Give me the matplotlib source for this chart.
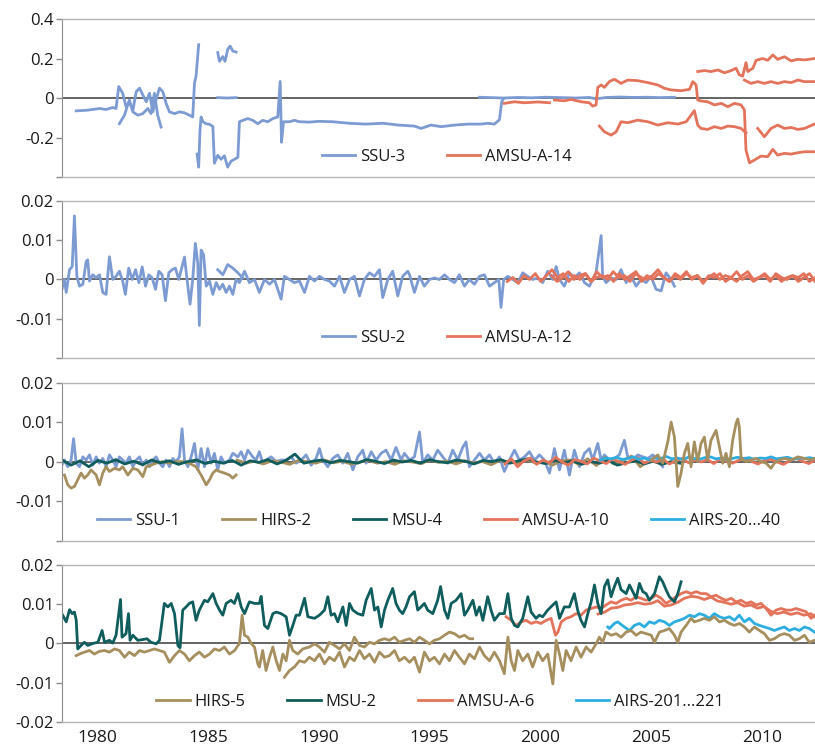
import numpy as np
import matplotlib.pyplot as plt

plt.rcParams['font.family'] = ['Open Sans', 'DejaVu Sans']

# ---------------- colours / axis setup ----------------
c_ssu = '#7d9bd3'
c_amsu = '#e4735b'
c_hirs = '#a68f5f'
c_msu = '#0f5d5c'
c_airs = '#2eaee0'

year_ticks = [1980, 1985, 1990, 1995, 2000, 2005, 2010]
xlim = (1978.4, 2012.4)

p1_ticks = [0.4, 0.2, 0, -0.2, -0.4]
p1_labels = ['0.4', '0.2', '0', '-0.2', '']
p23_ticks = [0.02, 0.01, 0, -0.01, -0.02]
p23_labels = ['0.02', '0.01', '0', '-0.01', '']
p4_labels = ['0.02', '0.01', '0', '-0.01', '-0.02']

# ---------------- panel 1: SSU-3 / AMSU-A-14 (weights) ----------------
ssu3_a = [(1979.04, -0.065), (1979.49, -0.062), (1979.79, -0.058), (1980.09, -0.053),
          (1980.39, -0.058), (1980.69, -0.048), (1980.84, -0.053), (1980.96, 0.058),
          (1981.14, 0.024), (1981.29, -0.044), (1981.44, -0.019), (1981.60, -0.062),
          (1981.75, 0.032), (1981.90, 0.050), (1982.05, 0.015), (1982.20, -0.019),
          (1982.35, 0.024), (1982.50, -0.070), (1982.65, -0.007), (1982.80, 0.050),
          (1982.95, 0.032), (1983.10, -0.027), (1983.25, -0.070), (1983.48, -0.079),
          (1983.70, -0.070), (1983.93, -0.075), (1984.15, -0.087), (1984.30, -0.096),
          (1984.38, 0.075), (1984.45, 0.110), (1984.57, 0.270)]
ssu3_b = [(1980.99, -0.130), (1981.22, -0.087), (1981.44, -0.010), (1981.60, -0.070),
          (1981.82, -0.087), (1982.05, -0.079), (1982.27, -0.053), (1982.42, -0.079),
          (1982.57, 0.024), (1982.72, -0.087), (1982.87, -0.147)]
ssu3_c = [(1984.50, -0.284), (1984.57, -0.350), (1984.63, -0.160), (1984.68, -0.096),
          (1984.76, -0.120), (1984.90, -0.130), (1985.06, -0.133), (1985.21, -0.144),
          (1985.28, -0.330), (1985.43, -0.290), (1985.58, -0.310), (1985.73, -0.292),
          (1985.88, -0.350), (1986.03, -0.320), (1986.19, -0.310), (1986.34, -0.300),
          (1986.41, -0.120), (1986.56, -0.113), (1986.79, -0.104), (1987.01, -0.113),
          (1987.24, -0.130), (1987.46, -0.113), (1987.69, -0.120), (1987.92, -0.104),
          (1988.14, -0.096), (1988.25, 0.084), (1988.31, -0.224), (1988.40, -0.120),
          (1988.67, -0.120), (1988.89, -0.113), (1989.12, -0.120), (1989.57, -0.122),
          (1990.00, -0.118), (1990.60, -0.120), (1991.40, -0.128), (1992.10, -0.132),
          (1992.90, -0.128), (1993.60, -0.137), (1994.31, -0.142), (1994.61, -0.154),
          (1995.06, -0.137), (1995.52, -0.145), (1996.12, -0.137), (1996.72, -0.132),
          (1997.32, -0.132), (1997.62, -0.128), (1997.92, -0.132), (1998.15, -0.110),
          (1998.25, -0.020), (1998.31, -0.008)]
ssu3_d = [(1985.43, 0.230), (1985.51, 0.186), (1985.66, 0.210), (1985.76, 0.186),
          (1985.88, 0.246), (1985.99, 0.263), (1986.11, 0.238), (1986.26, 0.233)]
ssu3_e = [(1985.43, 0.002), (1985.85, 0.000), (1986.26, 0.002)]
ssu3_f = [(1997.25, 0.004), (1997.80, 0.002), (1998.30, 0.000), (1999.00, 0.003),
          (1999.60, 0.001), (2000.20, 0.004), (2001.00, 0.002), (2001.60, 0.000),
          (2002.20, 0.003), (2002.50, -0.004), (2003.00, 0.003), (2003.60, 0.005),
          (2004.20, 0.003), (2004.80, 0.004), (2005.40, 0.002), (2006.05, 0.004)]

amsu14_a = [(1998.37, -0.027), (1998.83, -0.019), (1999.28, -0.024), (1999.88, -0.020),
            (2000.41, -0.024)]
amsu14_b = [(2000.63, -0.010), (2001.08, -0.014), (2001.38, -0.007), (2001.84, -0.019),
            (2002.21, -0.024), (2002.36, -0.041), (2002.51, -0.035), (2002.59, 0.054),
            (2002.74, 0.066), (2002.89, 0.054), (2003.11, 0.083), (2003.34, 0.095),
            (2003.64, 0.074), (2003.94, 0.091), (2004.39, 0.088), (2004.85, 0.078),
            (2005.30, 0.066), (2005.60, 0.049), (2005.90, 0.041), (2006.35, 0.037),
            (2006.73, 0.044), (2006.88, 0.083), (2007.03, 0.066), (2007.10, -0.010),
            (2007.25, -0.015), (2007.55, -0.019), (2007.86, -0.035), (2008.16, -0.027),
            (2008.46, -0.044), (2008.76, -0.027), (2009.06, -0.035), (2009.21, -0.061),
            (2009.28, -0.264), (2009.44, -0.328), (2009.66, -0.314), (2009.96, -0.294),
            (2010.26, -0.297), (2010.49, -0.260), (2010.71, -0.289), (2011.02, -0.280),
            (2011.32, -0.284), (2011.62, -0.277), (2011.92, -0.272), (2012.37, -0.272)]
amsu14_c = [(2002.66, -0.142), (2002.89, -0.171), (2003.19, -0.188), (2003.42, -0.171),
            (2003.64, -0.120), (2003.94, -0.125), (2004.39, -0.112), (2004.85, -0.120),
            (2005.30, -0.137), (2005.75, -0.125), (2006.20, -0.132), (2006.58, -0.120),
            (2006.81, -0.086), (2006.95, -0.064), (2007.10, -0.137), (2007.25, -0.154),
            (2007.55, -0.159), (2007.86, -0.145), (2008.16, -0.154), (2008.46, -0.142),
            (2008.76, -0.145), (2009.06, -0.154), (2009.28, -0.176)]
amsu14_d = [(2009.81, -0.154), (2010.11, -0.196), (2010.41, -0.154), (2010.71, -0.137),
            (2011.02, -0.154), (2011.32, -0.149), (2011.62, -0.159), (2011.92, -0.154),
            (2012.37, -0.132)]
amsu14_e = [(2007.10, 0.134), (2007.40, 0.139), (2007.70, 0.134), (2008.01, 0.142),
            (2008.31, 0.128), (2008.61, 0.139), (2008.83, 0.151), (2008.98, 0.117),
            (2009.13, 0.111), (2009.28, 0.179), (2009.36, 0.134), (2009.59, 0.151),
            (2009.74, 0.191), (2010.04, 0.200), (2010.26, 0.191), (2010.49, 0.218),
            (2010.71, 0.196), (2011.02, 0.209), (2011.32, 0.188), (2011.62, 0.196),
            (2011.92, 0.193), (2012.37, 0.200)]
amsu14_f = [(2009.21, 0.091), (2009.51, 0.074), (2009.81, 0.083), (2010.11, 0.074),
            (2010.41, 0.083), (2010.71, 0.074), (2011.02, 0.083), (2011.32, 0.078),
            (2011.62, 0.091), (2011.92, 0.083), (2012.37, 0.083)]

# ---------------- panel 2: SSU-2 / AMSU-A-12  (units of 1e-3) ----------------
ssu2_a = [(1978.36, -3.3), (1978.51, 0.0), (1978.59, -3.3), (1978.74, 2.5), (1978.86, 3.3),
          (1978.96, 16.2), (1979.07, 0.8), (1979.19, -1.7), (1979.34, -1.2), (1979.49, 4.6),
          (1979.56, 5.0), (1979.64, -0.4), (1979.79, 1.2), (1979.94, 0.4), (1980.09, 1.2),
          (1980.24, -3.3), (1980.39, -3.8), (1980.54, 5.8), (1980.69, 0.0), (1980.84, 0.8),
          (1980.99, 2.1), (1981.14, -0.4), (1981.26, -3.8), (1981.41, 2.9), (1981.57, 0.0),
          (1981.72, 2.5), (1981.87, -0.8), (1982.02, 3.2), (1982.17, -1.7), (1982.32, 1.2),
          (1982.47, 0.4), (1982.62, -2.5), (1982.77, 2.1), (1982.92, 1.2), (1983.07, -5.4),
          (1983.22, 1.7), (1983.37, 2.5), (1983.52, 2.9), (1983.67, 0.0), (1983.82, 3.3),
          (1983.93, 5.7), (1984.08, -1.7), (1984.18, -6.3), (1984.30, 0.0), (1984.42, 9.2),
          (1984.53, 4.2), (1984.60, -11.7), (1984.68, 7.5), (1984.79, 6.3), (1984.91, -1.7),
          (1985.06, -0.4), (1985.21, -3.8), (1985.36, -0.8), (1985.51, -2.5), (1985.66, -1.2),
          (1985.81, -3.3), (1985.96, -1.7), (1986.11, -3.8), (1986.26, 0.0), (1986.41, -0.8),
          (1986.64, 2.1), (1986.86, -0.8), (1987.09, 0.0), (1987.31, -3.3), (1987.54, 0.0),
          (1987.77, -1.2), (1987.99, 0.0), (1988.29, -5.0), (1988.44, 0.8), (1988.67, 0.0),
          (1988.89, -0.8), (1989.12, -0.4), (1989.35, -3.3), (1989.57, 0.8), (1989.80, -0.4),
          (1990.02, 0.8), (1990.25, 0.0), (1990.47, -0.4), (1990.70, -1.7), (1990.93, 0.8),
          (1991.15, -3.3), (1991.38, 0.0), (1991.60, 0.8), (1991.83, -4.2), (1992.05, 0.0),
          (1992.28, 1.7), (1992.51, 0.8), (1992.73, 2.5), (1992.88, -4.6), (1993.11, 0.0),
          (1993.33, 2.1), (1993.56, -4.2), (1993.78, 0.8), (1994.01, 2.1), (1994.09, 1.2),
          (1994.31, -3.3), (1994.54, 0.8), (1994.76, -1.7), (1994.99, 0.0), (1995.21, 0.4),
          (1995.44, 0.0), (1995.67, 1.2), (1995.89, 0.0), (1996.12, -0.8), (1996.34, 1.2),
          (1996.57, -1.7), (1996.79, 0.0), (1997.02, -1.2), (1997.25, 0.8), (1997.47, 1.2),
          (1997.70, -1.7), (1997.92, -0.8), (1998.12, 0.0), (1998.22, -7.1), (1998.34, 0.0),
          (1998.53, 0.8), (1998.75, 0.0), (1998.98, -0.8), (1999.20, 1.7), (1999.43, 0.8),
          (1999.65, 0.0), (1999.88, 0.4), (2000.10, -0.8), (2000.33, 2.1), (2000.56, 0.0),
          (2000.71, 3.3), (2000.86, 0.0), (2001.08, -1.7), (2001.31, 1.7), (2001.53, 0.4),
          (2001.76, 1.7), (2001.99, -0.8), (2002.21, -1.7), (2002.36, 0.0), (2002.51, 1.7),
          (2002.74, 11.2), (2002.81, 0.8), (2002.96, -0.8), (2003.19, 0.4), (2003.42, 0.0),
          (2003.64, 2.5), (2003.87, -0.8), (2004.09, 0.8), (2004.32, -1.7), (2004.54, 0.0),
          (2004.77, -0.8), (2004.99, 0.8), (2005.22, -2.5), (2005.45, -2.9), (2005.67, 1.7),
          (2005.90, 0.0), (2006.05, -1.7)]
ssu2_b = [(1985.43, 2.5), (1985.66, 1.2), (1985.88, 3.8), (1986.11, 2.9), (1986.34, 1.7),
          (1986.56, 0.4)]

amsu12_a = [-0.5, 0.5, -1.0, 1.0, 0.0, 1.5, -0.5, 1.0, 2.5, 0.5, 1.5, -0.5, 1.0, 0.0,
            1.5, -0.5, 2.0, 0.5, 1.0, -0.5, 1.5, 0.0, 1.0, 2.0, -0.5, 1.0, 0.0, 1.5,
            0.5, -0.5, 1.5, 0.5, 2.0, 0.0, 1.0, -1.0, 1.0, 0.5, 1.5, -0.5, 0.5, 2.0,
            0.0, 1.0, -0.5, 0.5, 1.5, 0.0, 1.0, -0.5, 0.5, 1.0, -0.5, 0.5, 1.5, -0.5]
amsu12_a_span = (1998.5, 2012.4)
amsu12_b = [1.0, -0.5, 0.5, 2.0, 0.0, 1.0, 1.5, -0.5, 0.5, 1.0, 0.0, 2.0, 0.5, 1.0,
            -0.5, 1.5, 0.5, 0.0, 1.0, 2.5, 0.5, -0.5, 1.0, 0.0, 1.5, 0.5, 1.0, -0.5,
            0.5, 1.5, 0.0, 1.0, 0.5, -0.5, 1.0, 2.0, 0.0, 0.5, 1.0, -0.5, 1.5, 0.5,
            0.0, 1.0, 0.5, 1.5, -0.5, 0.5]
amsu12_b_span = (2000.5, 2012.4)

# ---------------- panel 3: SSU-1 / HIRS-2 / MSU-4 / AMSU-A-10 / AIRS (1e-3) ----------------
ssu1 = [(1978.36, -1.2), (1978.51, 0.5), (1978.66, -1.2), (1978.81, 0.5), (1978.92, 5.9),
        (1979.04, -0.3), (1979.19, -1.2), (1979.34, 1.3), (1979.49, 0.5), (1979.64, 1.8),
        (1979.79, -0.8), (1979.94, 1.3), (1980.09, -0.3), (1980.24, 0.9), (1980.39, -1.2),
        (1980.54, 1.8), (1980.69, 0.5), (1980.84, -1.2), (1980.99, 1.3), (1981.14, 0.5),
        (1981.29, -0.3), (1981.44, 1.3), (1981.60, -1.2), (1981.75, 0.5), (1981.90, 1.3),
        (1982.05, -0.8), (1982.20, 0.5), (1982.35, -1.2), (1982.50, 0.5), (1982.65, 1.3),
        (1982.80, -0.3), (1982.95, -1.2), (1983.10, 0.5), (1983.25, -1.2), (1983.40, 0.9),
        (1983.55, 0.1), (1983.70, 1.3), (1983.82, 8.4), (1983.93, 0.5), (1984.08, -1.2),
        (1984.23, 1.3), (1984.38, 4.7), (1984.53, -2.0), (1984.68, 3.4), (1984.83, -1.2),
        (1984.98, 3.4), (1985.13, -0.3), (1985.28, 2.2), (1985.43, -2.0), (1985.58, 1.3),
        (1985.73, -0.3), (1985.96, 0.5), (1986.11, 2.2), (1986.34, 1.3), (1986.49, 2.6),
        (1986.64, 0.5), (1986.79, 3.0), (1987.01, 1.3), (1987.16, 0.5), (1987.31, 2.6),
        (1987.46, -0.3), (1987.61, 0.5), (1987.84, 1.3), (1988.07, 0.1), (1988.29, 0.5),
        (1988.52, 0.5), (1988.74, 1.3), (1988.97, -0.3), (1989.20, 0.5), (1989.42, 1.8),
        (1989.65, -0.8), (1989.87, 0.9), (1990.02, 3.4), (1990.17, 0.5), (1990.40, -1.2),
        (1990.62, 0.9), (1990.85, 1.8), (1991.08, -0.3), (1991.30, 2.2), (1991.53, -2.0),
        (1991.75, 1.3), (1991.98, 3.0), (1992.13, -0.3), (1992.36, 2.6), (1992.58, 0.5),
        (1992.81, 2.2), (1993.03, 3.0), (1993.26, 0.5), (1993.48, 3.7), (1993.71, 0.5),
        (1993.86, 2.2), (1994.09, 0.5), (1994.31, 1.3), (1994.54, 7.6), (1994.69, -0.3),
        (1994.91, 1.8), (1995.14, 0.5), (1995.36, 3.0), (1995.59, 1.3), (1995.82, -0.3),
        (1996.04, 3.0), (1996.27, 0.5), (1996.49, 3.7), (1996.64, 5.1), (1996.79, -1.2),
        (1997.02, 0.5), (1997.25, 2.2), (1997.47, 0.5), (1997.70, 1.8), (1997.92, -0.3),
        (1998.15, 1.3), (1998.37, -2.4), (1998.60, 0.5), (1998.83, 3.0), (1999.05, 0.5),
        (1999.28, 1.3), (1999.50, 2.6), (1999.73, 0.5), (1999.96, 1.8), (2000.18, 0.5),
        (2000.41, -2.8), (2000.63, 3.4), (2000.86, -2.0), (2001.08, 3.0), (2001.31, -3.3),
        (2001.53, 3.0), (2001.76, -1.2), (2001.99, 2.2), (2002.21, 3.4), (2002.36, 0.5),
        (2002.59, 4.7), (2002.74, 0.5), (2002.89, 1.8), (2003.11, 0.5), (2003.34, 0.9),
        (2003.56, 1.8), (2003.79, 5.5), (2003.94, 1.3), (2004.17, 0.5), (2004.39, 1.8),
        (2004.62, 1.3), (2004.85, 0.9), (2005.07, 1.8), (2005.30, 0.5), (2005.52, -1.2)]

hirs2_a = [(1978.51, -3.3), (1978.66, -5.8), (1978.81, -6.6), (1978.96, -6.2), (1979.11, -4.5),
           (1979.26, -2.8), (1979.41, -4.1), (1979.56, -3.3), (1979.71, -2.0), (1979.94, -3.3),
           (1980.09, -5.8), (1980.24, -2.8), (1980.39, -1.2), (1980.54, -2.4), (1980.77, -1.6),
           (1980.99, -2.0), (1981.14, -1.2), (1981.37, -3.3), (1981.60, -1.6), (1981.82, -2.0),
           (1982.05, -3.7), (1982.20, -1.2), (1982.42, -0.8), (1982.65, -0.3), (1982.95, 0.1),
           (1983.25, -0.3), (1983.55, 0.1), (1983.85, 0.1), (1984.15, -0.3), (1984.45, -1.2),
           (1984.68, -3.3), (1984.91, -5.8), (1985.06, -4.5), (1985.21, -2.8), (1985.36, -2.0),
           (1985.51, -2.4), (1985.73, -2.8), (1985.96, -3.3), (1986.11, -4.1), (1986.26, -3.3)]
hirs2_b = [0.5, -0.3, 0.2, -0.5, 0.3, 0.0, -0.6, 0.4, 0.1, -0.3, 0.5, -0.2, 0.2, -0.5,
           0.0, 0.4, -0.3, 0.1, -0.6, 0.3, 0.0, -0.4, 0.5, -0.1, 0.2, -0.5, 0.3, -0.2,
           0.1, -0.7, 0.4, 0.0, -0.3, 0.6, -0.2, 0.1, -0.8, 0.3, 0.5, -0.6, 0.8, -0.9,
           1.2, -0.5, 0.3, 1.5, -1.2, 0.4]
hirs2_b_span = (1986.3, 2004.9)
hirs2_c = [(2005.00, 0.5), (2005.30, 1.8), (2005.52, -0.3), (2005.75, 5.1), (2005.90, 10.1),
           (2006.05, 6.3), (2006.20, -6.2), (2006.35, -2.8), (2006.50, 2.2), (2006.65, 4.7),
           (2006.80, -1.2), (2006.95, 5.1), (2007.10, 0.1), (2007.25, 4.7), (2007.40, 6.3),
           (2007.55, 0.5), (2007.70, 5.5), (2007.93, 8.0), (2008.08, 3.8), (2008.23, -0.3),
           (2008.38, 2.2), (2008.53, -1.2), (2008.68, 5.5), (2008.83, 9.7), (2008.91, 10.9),
           (2008.98, 8.8), (2009.06, 0.9), (2009.28, 0.1), (2009.51, 0.5), (2009.74, 0.9),
           (2009.96, 0.1), (2010.19, -0.3), (2010.41, -1.6), (2010.56, -0.3), (2010.79, 0.5),
           (2011.02, 0.9), (2011.32, 0.5), (2011.62, 1.3), (2011.92, 0.9), (2012.22, 0.5),
           (2012.37, 0.9)]

msu4 = [0.5, -0.8, 0.3, -1.2, 0.4, -0.3, 0.6, -0.5, 0.2, -0.7, 0.5, -0.2, 0.3, -0.6,
        0.1, 0.5, -0.4, 0.2, -0.3, 0.4, -0.8, 0.3, -0.1, 0.6, -0.5, 0.4, 2.0, -0.3,
        0.2, 0.5, -0.2, 0.4, 0.1, -0.3, 0.6, 0.2, -0.4, 0.5, 0.0, 0.4, -0.3, 0.6,
        0.1, -0.2, 0.5, 0.2, -0.5, 0.4, 0.1, 0.6, -0.3, 0.3, 0.8, 0.0, -0.4, 0.5,
        -0.2, 0.3, -0.6, 0.1, -0.3, 0.4, -0.8, -0.2, 0.3, -0.5, 0.2, -0.6, 0.1, -0.3]
msu4_span = (1978.4, 2006.3)

amsu10 = [-0.5, 0.8, -1.2, 0.3, 1.0, -0.6, 0.5, -0.2, 1.2, 0.0, -0.8, 0.6, 0.2, -0.5,
          1.0, 0.3, -0.4, 0.8, 0.1, -0.6, 0.5, 1.1, -0.3, 0.4, 0.0, 0.7, -0.5, 0.3,
          0.9, -0.2, 0.5, 0.0, 0.6, -0.4, 0.8, 0.2, -0.3, 0.5, 1.0, 0.1, -0.5, 0.4,
          0.7, 0.0, -0.6, 0.3, 0.9, 0.2, -0.4, 0.5]
amsu10_span = (1998.4, 2012.4)

airs20 = [0.5, 1.0, 0.8, 1.2, 0.6, 0.9, 1.3, 0.7, 1.0, 0.5, 1.1, 0.9, 1.4, 0.8, 1.0,
          0.6, 1.2, 0.9, 0.7, 1.1, 1.3, 0.8, 1.0, 0.6, 0.9, 1.2, 0.8, 1.1, 0.7, 1.0,
          0.9, 1.3, 0.8, 1.0, 1.2, 0.7, 1.0, 0.9, 1.1, 0.8]
airs20_span = (2002.7, 2012.4)

# ---------------- panel 4: HIRS-5 / MSU-2 / AMSU-A-6 / AIRS (1e-3) ----------------
msu2 = [(1978.43, 7.2), (1978.59, 5.5), (1978.74, 8.6), (1978.86, 7.6), (1978.96, 8.0),
        (1979.04, 6.0), (1979.11, -1.4), (1979.26, -0.5), (1979.41, 0.3), (1979.56, -0.5),
        (1979.79, 0.0), (1980.02, 0.3), (1980.21, 3.3), (1980.32, 0.3), (1980.54, 0.8),
        (1980.69, 0.1), (1980.84, 2.1), (1981.04, 11.2), (1981.11, 1.6), (1981.29, 2.5),
        (1981.40, 7.6), (1981.47, 0.8), (1981.60, 2.1), (1981.82, 0.8), (1982.05, 1.0),
        (1982.23, 1.2), (1982.42, 0.3), (1982.65, -0.1), (1982.80, 0.8), (1983.02, 10.2),
        (1983.18, 9.3), (1983.33, 10.2), (1983.48, 7.6), (1983.63, -0.5), (1983.73, -1.1),
        (1983.85, 8.5), (1984.00, 9.3), (1984.15, 10.2), (1984.30, 10.6), (1984.45, 5.9),
        (1984.60, 8.5), (1984.83, 11.0), (1984.98, 10.6), (1985.21, 12.7), (1985.36, 10.2),
        (1985.51, 8.5), (1985.66, 7.2), (1985.81, 10.2), (1986.03, 11.0), (1986.18, 10.2),
        (1986.34, 12.7), (1986.49, 9.3), (1986.64, 7.6), (1986.86, 10.6), (1987.09, 10.2),
        (1987.31, 10.2), (1987.39, 12.0), (1987.54, 4.6), (1987.69, 3.8), (1987.92, 7.6),
        (1988.07, 8.0), (1988.29, 7.6), (1988.52, 6.8), (1988.67, 2.1), (1988.82, 4.6),
        (1988.97, 7.2), (1989.12, 7.2), (1989.35, 11.5), (1989.50, 6.8), (1989.80, 6.4),
        (1990.02, 7.2), (1990.25, 8.5), (1990.40, 11.9), (1990.55, 7.2), (1990.70, 7.6),
        (1990.85, 5.5), (1991.08, 9.3), (1991.23, 4.6), (1991.38, 10.2), (1991.53, 8.5),
        (1991.75, 7.6), (1991.98, 7.2), (1992.13, 11.0), (1992.36, 14.0), (1992.51, 8.5),
        (1992.66, 9.3), (1992.81, 4.2), (1992.96, 8.5), (1993.11, 11.0), (1993.33, 14.0),
        (1993.48, 10.2), (1993.63, 8.5), (1993.78, 7.6), (1993.93, 9.3), (1994.09, 11.9),
        (1994.31, 13.2), (1994.46, 8.5), (1994.61, 9.3), (1994.76, 10.2), (1994.91, 8.5),
        (1995.14, 7.6), (1995.36, 11.0), (1995.49, 14.5), (1995.67, 8.5), (1995.82, 6.4),
        (1995.97, 10.2), (1996.19, 11.0), (1996.42, 12.7), (1996.57, 7.2), (1996.72, 8.5),
        (1996.95, 11.0), (1997.10, 7.2), (1997.25, 9.3), (1997.40, 5.9), (1997.62, 11.9),
        (1997.77, 8.5), (1997.92, 5.9), (1998.15, 7.6), (1998.37, 7.6), (1998.53, 12.7),
        (1998.68, 6.4), (1998.83, 4.6), (1998.98, 4.2), (1999.20, 6.4), (1999.43, 11.9),
        (1999.58, 8.0), (1999.80, 6.4), (1999.95, 7.2), (2000.10, 6.8), (2000.33, 8.5),
        (2000.56, 9.8), (2000.71, 10.6), (2000.86, 6.4), (2001.08, 9.3), (2001.31, 9.3),
        (2001.53, 12.7), (2001.68, 8.5), (2001.83, 5.9), (2001.99, 4.2), (2002.14, 7.6),
        (2002.29, 10.6), (2002.44, 14.9), (2002.59, 10.2), (2002.74, 7.6), (2002.89, 14.5),
        (2003.04, 16.2), (2003.19, 11.9), (2003.34, 14.5), (2003.49, 16.6), (2003.64, 13.7),
        (2003.87, 12.7), (2004.02, 14.9), (2004.17, 13.2), (2004.32, 11.5), (2004.47, 15.3),
        (2004.62, 13.2), (2004.77, 12.7), (2004.92, 11.0), (2005.15, 12.7), (2005.37, 17.0),
        (2005.52, 15.7), (2005.67, 13.7), (2005.82, 11.9), (2006.05, 10.6), (2006.20, 12.7),
        (2006.35, 15.7)]

amsu6_a = [(1998.45, 6.8), (1998.68, 5.9), (1998.90, 4.6), (1999.13, 5.5), (1999.35, 5.9),
           (1999.58, 5.1), (1999.80, 5.5), (2000.03, 5.1), (2000.26, 5.9), (2000.48, 6.4),
           (2000.68, 2.1), (2000.79, 2.9), (2000.94, 5.5), (2001.16, 6.4), (2001.38, 6.8),
           (2001.61, 7.6), (2001.83, 7.2), (2002.06, 8.5), (2002.29, 8.9), (2002.51, 9.3),
           (2002.74, 8.9), (2002.96, 9.8), (2003.19, 10.6), (2003.42, 10.2), (2003.64, 11.0),
           (2003.87, 11.5), (2004.09, 11.0), (2004.32, 11.9), (2004.54, 11.5), (2004.77, 11.0),
           (2005.00, 11.5), (2005.22, 12.3), (2005.45, 11.5), (2005.67, 10.2), (2005.90, 11.0),
           (2006.12, 11.9), (2006.35, 12.7), (2006.58, 13.2), (2006.80, 12.7), (2007.03, 13.2),
           (2007.25, 12.7), (2007.48, 12.7), (2007.71, 11.9), (2007.93, 12.3), (2008.16, 11.5),
           (2008.38, 11.0), (2008.61, 11.5), (2008.83, 10.6), (2009.06, 11.0), (2009.29, 10.2),
           (2009.51, 10.6), (2009.74, 9.8), (2009.96, 10.2), (2010.19, 8.9), (2010.41, 7.2),
           (2010.64, 8.5), (2010.86, 8.9), (2011.09, 8.5), (2011.32, 8.5), (2011.54, 8.9),
           (2011.77, 8.5), (2011.99, 8.1), (2012.22, 6.4), (2012.37, 7.2)]
amsu6_b = [(2002.60, 7.5), (2002.90, 8.0), (2003.20, 9.0), (2003.50, 9.2), (2003.80, 9.8),
           (2004.10, 10.0), (2004.40, 10.4), (2004.70, 10.0), (2005.00, 10.2), (2005.30, 10.9),
           (2005.60, 9.5), (2005.90, 9.8), (2006.20, 10.5), (2006.50, 11.5), (2006.80, 12.0),
           (2007.10, 11.8), (2007.40, 11.2), (2007.70, 11.8), (2008.00, 10.8), (2008.30, 10.5),
           (2008.60, 10.0), (2008.90, 10.4), (2009.20, 9.5), (2009.50, 9.8), (2009.80, 9.0),
           (2010.10, 9.4), (2010.40, 8.2), (2010.70, 7.6), (2011.00, 8.0), (2011.30, 7.4),
           (2011.60, 7.8), (2011.90, 7.2), (2012.20, 7.6), (2012.37, 6.8)]

airs201 = [(2003.04, 4.2), (2003.11, 3.8), (2003.34, 5.1), (2003.49, 5.5), (2003.79, 4.2),
           (2004.02, 3.3), (2004.24, 4.6), (2004.47, 5.1), (2004.69, 4.2), (2004.92, 5.5),
           (2005.15, 5.1), (2005.37, 5.9), (2005.60, 5.5), (2005.82, 4.6), (2006.05, 5.5),
           (2006.27, 5.9), (2006.50, 6.4), (2006.73, 7.2), (2006.95, 6.8), (2007.18, 7.6),
           (2007.40, 7.2), (2007.63, 6.4), (2007.85, 7.6), (2008.08, 6.8), (2008.31, 6.4),
           (2008.53, 6.8), (2008.76, 5.9), (2008.98, 7.2), (2009.21, 5.5), (2009.43, 6.4),
           (2009.66, 5.1), (2009.89, 4.6), (2010.11, 4.2), (2010.34, 3.8), (2010.56, 3.3),
           (2010.79, 3.8), (2011.01, 4.2), (2011.24, 3.3), (2011.47, 3.8), (2011.69, 3.3),
           (2011.92, 4.2), (2012.14, 3.8), (2012.37, 2.9)]

hirs5_a = [(1979.04, -3.1), (1979.19, -2.7), (1979.41, -2.2), (1979.64, -1.8), (1979.86, -2.7),
           (1980.09, -2.0), (1980.32, -1.8), (1980.54, -2.2), (1980.77, -1.4), (1980.99, -1.8),
           (1981.22, -3.5), (1981.44, -2.2), (1981.67, -3.1), (1981.90, -1.8), (1982.12, -2.2),
           (1982.35, -1.8), (1982.57, -1.4), (1982.80, -1.8), (1983.02, -2.2), (1983.25, -4.8),
           (1983.48, -3.1), (1983.70, -1.8), (1983.93, -2.7), (1984.15, -4.4), (1984.38, -3.1),
           (1984.60, -2.2), (1984.83, -3.5), (1985.06, -2.7), (1985.28, -1.4), (1985.51, -1.8),
           (1985.73, -0.9), (1985.96, -2.7), (1986.19, -1.8), (1986.41, 0.0), (1986.53, 7.2),
           (1986.64, 2.1), (1986.79, 1.6), (1986.94, 0.0), (1987.09, -0.9), (1987.24, -5.2),
           (1987.31, -6.0), (1987.46, -1.8), (1987.61, -6.9), (1987.77, -3.5), (1987.92, -0.9),
           (1988.07, -4.4), (1988.22, -6.9), (1988.37, -2.7), (1988.52, -4.4), (1988.67, 0.8),
           (1988.82, -1.8), (1989.04, -2.7), (1989.27, -1.4), (1989.57, -0.9), (1989.80, -0.1),
           (1990.02, -0.9), (1990.25, -2.2), (1990.47, 0.3), (1990.70, -0.5), (1990.93, -1.4),
           (1991.15, -0.1), (1991.38, -1.8), (1991.60, 1.6), (1991.83, -0.5), (1992.05, -0.9),
           (1992.28, 0.3), (1992.51, -0.1), (1992.73, 0.8), (1992.96, 1.2), (1993.18, 0.8),
           (1993.41, 1.6), (1993.63, 0.3), (1993.86, 0.8), (1994.09, 1.2), (1994.31, 0.3),
           (1994.54, 1.6), (1994.76, 0.8), (1994.99, -0.1), (1995.21, 0.8), (1995.44, 1.2),
           (1995.67, 2.1), (1995.89, 2.9), (1996.12, 2.5), (1996.34, 1.6), (1996.57, 2.1),
           (1996.79, 1.2), (1996.94, 1.2)]
hirs5_b = [(1988.44, -8.6), (1988.67, -6.9), (1988.89, -6.0), (1989.12, -4.4), (1989.35, -4.8),
           (1989.57, -3.5), (1989.80, -4.4), (1990.02, -2.7), (1990.25, -5.2), (1990.47, -3.5),
           (1990.70, -4.4), (1990.93, -2.2), (1991.15, -6.0), (1991.38, -3.5), (1991.60, -4.4),
           (1991.83, -1.8), (1992.05, -3.9), (1992.28, -2.7), (1992.51, -4.8), (1992.73, -2.2),
           (1992.96, -3.5), (1993.18, -3.1), (1993.41, -1.8), (1993.63, -4.4), (1993.86, -3.5),
           (1994.09, -4.8), (1994.31, -3.5), (1994.54, -7.3), (1994.76, -2.2), (1994.99, -4.4),
           (1995.21, -3.5), (1995.44, -5.2), (1995.67, -2.7), (1995.89, -4.4), (1996.12, -1.8),
           (1996.34, -3.5), (1996.57, -5.2), (1996.79, -2.7), (1997.02, -3.9), (1997.25, -0.9),
           (1997.47, -3.1), (1997.70, -4.4), (1997.92, -2.2), (1998.15, -4.4), (1998.37, -7.7),
           (1998.53, 1.6), (1998.68, -4.4), (1998.83, -6.9), (1998.98, -1.8), (1999.20, -4.4),
           (1999.43, -2.7), (1999.65, -6.0), (1999.88, -2.2), (2000.10, -4.4), (2000.33, -2.7),
           (2000.56, -10.3), (2000.71, 0.8), (2000.86, -2.7), (2001.01, -6.9), (2001.16, -1.8),
           (2001.38, -4.4), (2001.61, -0.9), (2001.83, -3.5), (2002.06, -0.9), (2002.29, -2.2),
           (2002.51, -0.1), (2002.66, 1.6), (2002.81, 0.3), (2002.96, 2.9), (2003.19, 2.1),
           (2003.42, 2.5), (2003.64, 1.6), (2003.87, 2.9), (2004.09, 3.3), (2004.32, 2.1),
           (2004.54, 2.9), (2004.77, 2.5), (2005.00, 2.1), (2005.15, 0.3), (2005.37, 2.9),
           (2005.60, 3.3), (2005.82, 3.8), (2006.05, 2.1), (2006.20, 0.3), (2006.35, 2.9),
           (2006.58, 4.6), (2006.80, 6.4), (2006.95, 5.5), (2007.18, 5.9), (2007.40, 6.4),
           (2007.63, 5.9), (2007.85, 6.8), (2008.08, 5.5), (2008.31, 5.9), (2008.53, 5.1),
           (2008.76, 4.6), (2008.98, 5.1), (2009.21, 4.2), (2009.43, 2.9), (2009.66, 4.2),
           (2009.89, 3.3), (2010.11, 2.5), (2010.34, 0.8), (2010.56, 1.2), (2010.79, 2.1),
           (2011.01, 2.5), (2011.24, 2.1), (2011.47, 0.8), (2011.69, 1.2), (2011.92, 2.1),
           (2012.14, 0.3), (2012.37, 0.8)]


def xy(pts, scale=1.0):
    a = np.array(pts, dtype=float)
    return a[:, 0], a[:, 1] * scale


def grid(vals, span, scale=1e-3):
    v = np.array(vals, dtype=float) * scale
    return np.linspace(span[0], span[1], len(v)), v


LW = 2.0
fig = plt.figure(figsize=(8.15, 7.46), dpi=100)
left, width = 0.0761, 0.924
boxes = [(0.7627, 0.2118), (0.5201, 0.2105), (0.2748, 0.2118), (0.0322, 0.2105)]
axes = [fig.add_axes([left, b, width, h]) for b, h in boxes]


def style(ax, ticks, labels, ylim, show_years):
    ax.set_xlim(*xlim)
    ax.set_ylim(*ylim)
    ax.axhline(0, color='#3a3a3a', lw=1.1, zorder=1.5)
    ax.set_yticks(ticks)
    ax.set_yticklabels(labels)
    ax.spines['right'].set_visible(False)
    for s in ('top', 'bottom'):
        ax.spines[s].set_color('#b4b4b4')
        ax.spines[s].set_linewidth(1.0)
    ax.spines['left'].set_color('#8c8c8c')
    ax.tick_params(axis='y', direction='out', length=4, width=1, color='#8c8c8c',
                   labelsize=12, pad=2, labelcolor='#1a1a1a')
    ax.set_xticks(year_ticks)
    if show_years:
        ax.tick_params(axis='x', length=0, labelsize=12.5, pad=6, labelcolor='#1a1a1a')
    else:
        ax.tick_params(axis='x', length=0, labelbottom=False)


def legend(ax, ncol, xc):
    ax.legend(loc='center', bbox_to_anchor=(xc, 0.127), ncol=ncol, frameon=False,
              fontsize=12, handlelength=2.0, handletextpad=0.3, columnspacing=2.5,
              borderaxespad=0, labelcolor='#1a1a1a')


# ---- panel 1 ----
ax = axes[0]
for i, seg in enumerate([ssu3_a, ssu3_b, ssu3_c, ssu3_d, ssu3_e, ssu3_f]):
    ax.plot(*xy(seg), color=c_ssu, lw=LW, label='SSU-3' if i == 0 else None)
for i, seg in enumerate([amsu14_a, amsu14_b, amsu14_c, amsu14_d, amsu14_e, amsu14_f]):
    ax.plot(*xy(seg), color=c_amsu, lw=LW, label='AMSU-A-14' if i == 0 else None)
style(ax, p1_ticks, p1_labels, (-0.4, 0.4), False)
legend(ax, 2, 0.511)

# ---- panel 2 ----
ax = axes[1]
ax.plot(*xy(ssu2_a, 1e-3), color=c_ssu, lw=LW, label='SSU-2')
ax.plot(*xy(ssu2_b, 1e-3), color=c_ssu, lw=LW)
ax.plot(*grid(amsu12_a, amsu12_a_span), color=c_amsu, lw=LW, label='AMSU-A-12')
ax.plot(*grid(amsu12_b, amsu12_b_span), color=c_amsu, lw=LW)
style(ax, p23_ticks, p23_labels, (-0.02, 0.02), False)
legend(ax, 2, 0.511)

# ---- panel 3 ----
ax = axes[2]
ax.plot(*xy(ssu1, 1e-3), color=c_ssu, lw=LW, label='SSU-1')
ax.plot(*xy(hirs2_a, 1e-3), color=c_hirs, lw=LW, label='HIRS-2')
ax.plot(*grid(hirs2_b, hirs2_b_span), color=c_hirs, lw=LW)
ax.plot(*grid(msu4, msu4_span), color=c_msu, lw=LW, label='MSU-4')
ax.plot(*grid(amsu10, amsu10_span), color=c_amsu, lw=LW, label='AMSU-A-10')
ax.plot(*grid(airs20, airs20_span), color=c_airs, lw=LW, label='AIRS-20...40')
ax.plot(*xy(hirs2_c, 1e-3), color=c_hirs, lw=LW)
style(ax, p23_ticks, p23_labels, (-0.02, 0.02), False)
legend(ax, 5, 0.50)

# ---- panel 4 ----
ax = axes[3]
ax.plot(*xy(airs201, 1e-3), color=c_airs, lw=LW, zorder=2)
ax.plot(*xy(hirs5_a, 1e-3), color=c_hirs, lw=LW, label='HIRS-5', zorder=2.1)
ax.plot(*xy(hirs5_b, 1e-3), color=c_hirs, lw=LW, zorder=2.1)
ax.plot(*xy(amsu6_b, 1e-3), color=c_amsu, lw=LW, zorder=2.2)
ax.plot(*xy(amsu6_a, 1e-3), color=c_amsu, lw=LW, zorder=2.2)
ax.plot(*xy(msu2, 1e-3), color=c_msu, lw=LW, label='MSU-2', zorder=2.3)
ax.plot([], [], color=c_amsu, lw=LW, label='AMSU-A-6')
ax.plot([], [], color=c_airs, lw=LW, label='AIRS-201...221')
style(ax, p23_ticks, p4_labels, (-0.02, 0.02), True)
legend(ax, 4, 0.502)

fig.savefig('out.png', dpi=100, facecolor='white')
